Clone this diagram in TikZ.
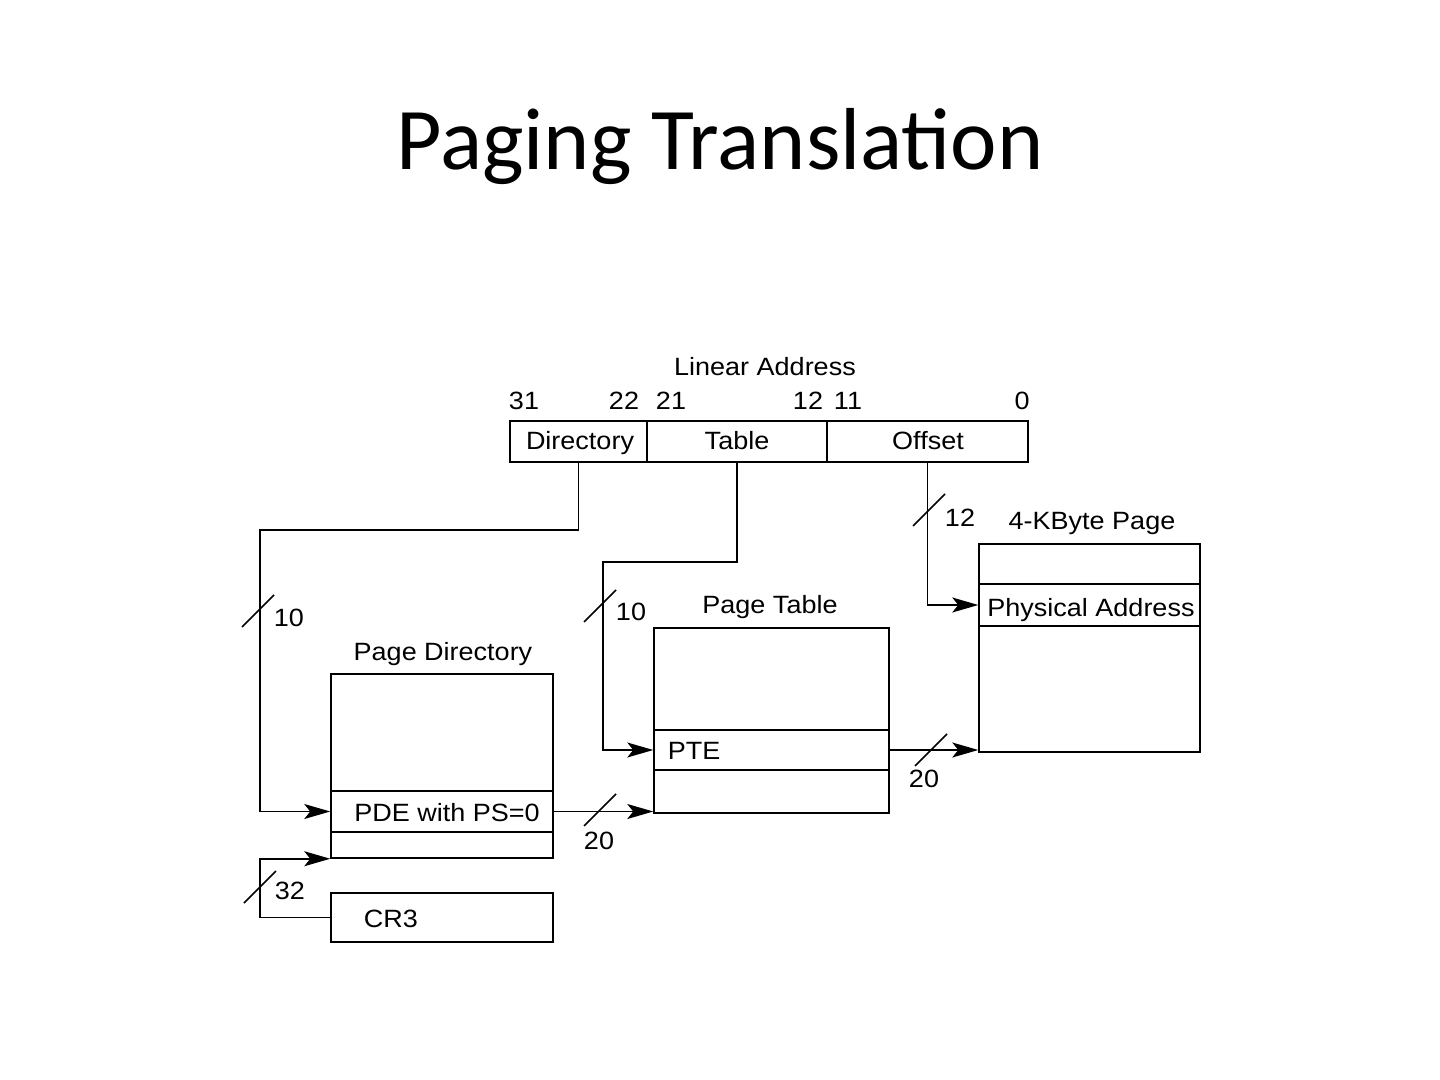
\documentclass[tikz,border=0pt]{standalone}
\usepackage{fontspec}
\setmainfont{Liberation Sans}
\newfontfamily\titlefont{Carlito}
\newfontfamily\diagfont{Liberation Sans}[FakeStretch=1.08]
\usetikzlibrary{arrows.meta}
\begin{document}
\begin{tikzpicture}[x=0.5pt,y=-0.5pt,
  cell/.style={draw, line width=0.75pt, inner sep=0pt, anchor=center},
  lbl/.style={font=\diagfont\fontsize{12.5}{14}\selectfont, inner sep=0pt, text height=9pt, text depth=0pt},
  conn/.style={line width=0.75pt},
  arr/.style={conn, -{Stealth[length=13pt,width=7.5pt,inset=3pt]}},
  bitslash/.pic={\draw[line width=0.75pt] (-16,16) -- (16,-16);}]
\useasboundingbox (0,0) rectangle (1440,1080);
\node[font=\titlefont\fontsize{44}{50}\selectfont, anchor=base, inner sep=0pt] (title) at (720,170) {Paging Translation};

% linear address
\node[lbl] (la) at (765,367) {Linear Address};
\node[lbl] (b31) at (524,401) {31};
\node[lbl] (b22) at (624,401) {22};
\node[lbl] (b21) at (671,401) {21};
\node[lbl] (b12) at (808,401) {12};
\node[lbl] (b11) at (848,401) {11};
\node[lbl] (b0) at (1022,401) {0};
\node[cell, minimum width=68.5pt, minimum height=20.5pt] (dir) at (578.5,441.5) {};
\node[cell, minimum width=90pt, minimum height=20.5pt] (tab) at (737,441.5) {};
\node[cell, minimum width=100.5pt, minimum height=20.5pt] (off) at (927.5,441.5) {};
\node[lbl] (dirt) at (580,441) {Directory};
\node[lbl] (tabt) at (737,441) {Table};
\node[lbl] (offt) at (928,441) {Offset};

% page directory
\node[lbl] (pdl) at (443,651) {Page Directory};
\node[cell, minimum width=111pt, minimum height=58.5pt] (pd1) at (442,732.5) {};
\node[cell, minimum width=111pt, minimum height=20.5pt] (pde) at (442,811.5) {};
\node[cell, minimum width=111pt, minimum height=13pt] (pd2) at (442,845) {};
\node[lbl] (pdet) at (447,812) {PDE with PS=0};
\node[cell, minimum width=111pt, minimum height=24.5pt] (cr3) at (442,917.5) {};
\node[lbl] (cr3t) at (391,918) {CR3};

% page table
\node[lbl] (ptl) at (770,604) {Page Table};
\node[cell, minimum width=117.5pt, minimum height=51pt] (pt1) at (771.5,679) {};
\node[cell, minimum width=117.5pt, minimum height=20pt] (pte) at (771.5,750) {};
\node[cell, minimum width=117.5pt, minimum height=21.5pt] (pt2) at (771.5,791.5) {};
\node[lbl] (ptet) at (694,750) {PTE};

% 4K page
\node[lbl] (pgl) at (1092,520) {4-KByte Page};
\node[cell, minimum width=110.5pt, minimum height=20pt] (pg1) at (1089.5,564) {};
\node[cell, minimum width=110.5pt, minimum height=21pt] (phys) at (1089.5,605) {};
\node[cell, minimum width=110.5pt, minimum height=63pt] (pg2) at (1089.5,689) {};
\node[lbl] (physt) at (1091,607) {Physical Address};

% connectors
\coordinate (c1) at (260,530);
\coordinate (c2) at (603,562);
\coordinate (c3) at (260,917.5);
\draw[arr] (dir.south) |- (c1) |- (pde.west);
\draw[arr] (tab.south) |- (c2) |- (pte.west);
\draw[arr] (off.south) |- (phys.west);
\draw[arr] (pde.east) -- (pde.east -| pt2.west);
\draw[arr] (pte.east) -- (pte.east -| pg2.west);
\draw[arr] (cr3.west) -- (c3) |- (pd2.south west);

% bit-width slashes and labels
\pic at (258,611) {bitslash};
\node[lbl] (n10a) at (289,617) {10};
\pic at (600,606) {bitslash};
\node[lbl] (n10b) at (631,611) {10};
\pic at (929,510) {bitslash};
\node[lbl] (n12) at (960,517) {12};
\pic at (600,810) {bitslash};
\node[lbl] (n20a) at (599,840) {20};
\pic at (931,750) {bitslash};
\node[lbl] (n20b) at (924,778) {20};
\pic at (260,887) {bitslash};
\node[lbl] (n32) at (290,890) {32};
\end{tikzpicture}
\end{document}
